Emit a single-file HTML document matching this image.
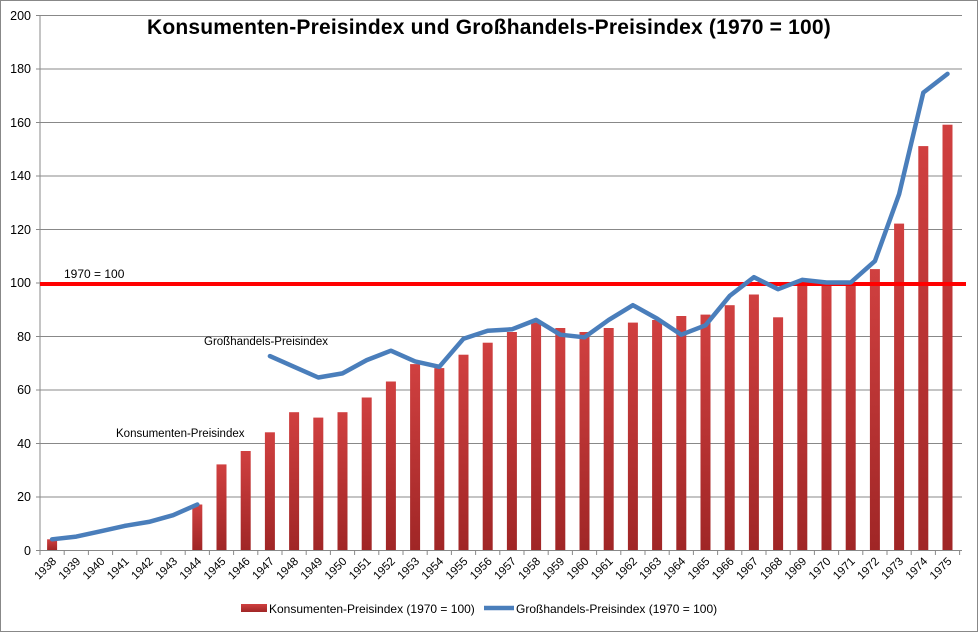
<!DOCTYPE html><html><head><meta charset="utf-8"><style>body{margin:0;background:#fff}svg{display:block;font-family:"Liberation Sans",sans-serif}</style></head><body>
<svg width="978" height="632" viewBox="0 0 978 632">
<defs><linearGradient id="g" x1="0" y1="0" x2="0" y2="1"><stop offset="0" stop-color="#d04040"/><stop offset="1" stop-color="#a02626"/></linearGradient></defs>
<rect x="0.5" y="0.5" width="977" height="631" fill="#fff" stroke="#888"/>
<g stroke="#888" stroke-width="1">
<line x1="36" y1="15.5" x2="962" y2="15.5"/><line x1="36" y1="69" x2="962" y2="69"/><line x1="36" y1="122.5" x2="962" y2="122.5"/><line x1="36" y1="176" x2="962" y2="176"/><line x1="36" y1="229.5" x2="962" y2="229.5"/><line x1="36" y1="283" x2="962" y2="283"/><line x1="36" y1="336.5" x2="962" y2="336.5"/><line x1="36" y1="390" x2="962" y2="390"/><line x1="36" y1="443.5" x2="962" y2="443.5"/><line x1="36" y1="497" x2="962" y2="497"/><line x1="36" y1="550.5" x2="962" y2="550.5"/>
<line x1="40" y1="15" x2="40" y2="551"/>
</g>
<g stroke="#888"><path d="M40 550v5M64.2 550v5M88.4 550v5M112.6 550v5M136.8 550v5M161 550v5M185.2 550v5M209.4 550v5M233.6 550v5M257.8 550v5M282 550v5M306.2 550v5M330.4 550v5M354.6 550v5M378.8 550v5M403 550v5M427.2 550v5M451.4 550v5M475.6 550v5M499.8 550v5M524 550v5M548.2 550v5M572.4 550v5M596.6 550v5M620.8 550v5M645 550v5M669.2 550v5M693.4 550v5M717.6 550v5M741.8 550v5M766 550v5M790.2 550v5M814.4 550v5M838.6 550v5M862.8 550v5M887 550v5M911.2 550v5M935.4 550v5M959.6 550v5"/></g>
<g font-size="12.5" fill="#000" text-anchor="end">
<text x="31" y="20">200</text><text x="31" y="73">180</text><text x="31" y="127">160</text><text x="31" y="180">140</text><text x="31" y="234">120</text><text x="31" y="287">100</text><text x="31" y="341">80</text><text x="31" y="394">60</text><text x="31" y="448">40</text><text x="31" y="501">20</text><text x="31" y="555">0</text>
</g>
<g fill="url(#g)">
<rect x="47.1" y="539.3" width="10" height="10.7"/>
<rect x="192.3" y="504.5" width="10" height="45.5"/>
<rect x="216.5" y="464.4" width="10" height="85.6"/>
<rect x="240.7" y="451" width="10" height="99"/>
<rect x="264.9" y="432.3" width="10" height="117.7"/>
<rect x="289.1" y="412.2" width="10" height="137.8"/>
<rect x="313.3" y="417.6" width="10" height="132.4"/>
<rect x="337.5" y="412.2" width="10" height="137.8"/>
<rect x="361.7" y="397.5" width="10" height="152.5"/>
<rect x="385.9" y="381.5" width="10" height="168.5"/>
<rect x="410.1" y="364.1" width="10" height="185.9"/>
<rect x="434.3" y="368.1" width="10" height="181.9"/>
<rect x="458.5" y="354.7" width="10" height="195.3"/>
<rect x="482.7" y="342.7" width="10" height="207.3"/>
<rect x="506.9" y="332" width="10" height="218"/>
<rect x="531.1" y="322.6" width="10" height="227.4"/>
<rect x="555.3" y="328" width="10" height="222"/>
<rect x="579.5" y="332" width="10" height="218"/>
<rect x="603.7" y="328" width="10" height="222"/>
<rect x="627.9" y="322.6" width="10" height="227.4"/>
<rect x="652.1" y="320" width="10" height="230"/>
<rect x="676.3" y="316" width="10" height="234"/>
<rect x="700.5" y="314.6" width="10" height="235.4"/>
<rect x="724.7" y="305.2" width="10" height="244.8"/>
<rect x="748.9" y="294.5" width="10" height="255.5"/>
<rect x="773.1" y="317.3" width="10" height="232.7"/>
<rect x="797.3" y="282.5" width="10" height="267.5"/>
<rect x="821.5" y="282.5" width="10" height="267.5"/>
<rect x="845.7" y="282.5" width="10" height="267.5"/>
<rect x="869.9" y="269.1" width="10" height="280.9"/>
<rect x="894.1" y="223.6" width="10" height="326.4"/>
<rect x="918.3" y="146.1" width="10" height="403.9"/>
<rect x="942.5" y="124.7" width="10" height="425.3"/>
</g>
<line x1="40" y1="284" x2="966" y2="284" stroke="#ff0000" stroke-width="4"/>
<g fill="none" stroke="#4a7ebb" stroke-width="4.5" stroke-linejoin="round" stroke-linecap="round">
<polyline points="52.1,539.3 76.3,536.6 100.5,531.3 124.7,525.9 148.9,521.9 173.1,515.2 197.3,504.5"/>
<polyline points="269.9,356.1 294.1,366.8 318.3,377.5 342.5,373.4 366.7,360.1 390.9,350.7 415.1,361.4 439.3,366.8 463.5,338.7 487.7,330.7 511.9,329.3 536.1,319.9 560.3,334.7 584.5,337.3 608.7,319.9 632.9,305.2 657.1,318.6 681.3,334.7 705.5,325.3 729.7,295.9 753.9,277.2 778.1,289.2 802.3,279.8 826.5,282.5 850.7,282.5 874.9,261.1 899.1,194.2 923.3,92.6 947.5,73.9"/>
</g>
<text x="489" y="34" text-anchor="middle" font-size="21" font-weight="bold" letter-spacing="0.2">Konsumenten-Preisindex und Großhandels-Preisindex (1970 = 100)</text>
<text x="64" y="278" font-size="12">1970 = 100</text>
<text x="204" y="345" font-size="11.5">Großhandels-Preisindex</text>
<text x="116" y="437" font-size="11.5">Konsumenten-Preisindex</text>
<g font-size="11.5" text-anchor="end">
<text transform="translate(57,562) rotate(-45)">1938</text><text transform="translate(81.2,562) rotate(-45)">1939</text><text transform="translate(105.4,562) rotate(-45)">1940</text><text transform="translate(129.6,562) rotate(-45)">1941</text><text transform="translate(153.8,562) rotate(-45)">1942</text><text transform="translate(178,562) rotate(-45)">1943</text><text transform="translate(202.2,562) rotate(-45)">1944</text><text transform="translate(226.4,562) rotate(-45)">1945</text><text transform="translate(250.6,562) rotate(-45)">1946</text><text transform="translate(274.8,562) rotate(-45)">1947</text><text transform="translate(299,562) rotate(-45)">1948</text><text transform="translate(323.2,562) rotate(-45)">1949</text><text transform="translate(347.4,562) rotate(-45)">1950</text><text transform="translate(371.6,562) rotate(-45)">1951</text><text transform="translate(395.8,562) rotate(-45)">1952</text><text transform="translate(420,562) rotate(-45)">1953</text><text transform="translate(444.2,562) rotate(-45)">1954</text><text transform="translate(468.4,562) rotate(-45)">1955</text><text transform="translate(492.6,562) rotate(-45)">1956</text><text transform="translate(516.8,562) rotate(-45)">1957</text><text transform="translate(541,562) rotate(-45)">1958</text><text transform="translate(565.2,562) rotate(-45)">1959</text><text transform="translate(589.4,562) rotate(-45)">1960</text><text transform="translate(613.6,562) rotate(-45)">1961</text><text transform="translate(637.8,562) rotate(-45)">1962</text><text transform="translate(662,562) rotate(-45)">1963</text><text transform="translate(686.2,562) rotate(-45)">1964</text><text transform="translate(710.4,562) rotate(-45)">1965</text><text transform="translate(734.6,562) rotate(-45)">1966</text><text transform="translate(758.8,562) rotate(-45)">1967</text><text transform="translate(783,562) rotate(-45)">1968</text><text transform="translate(807.2,562) rotate(-45)">1969</text><text transform="translate(831.4,562) rotate(-45)">1970</text><text transform="translate(855.6,562) rotate(-45)">1971</text><text transform="translate(879.8,562) rotate(-45)">1972</text><text transform="translate(904,562) rotate(-45)">1973</text><text transform="translate(928.2,562) rotate(-45)">1974</text><text transform="translate(952.4,562) rotate(-45)">1975</text>
</g>
<rect x="241" y="604" width="26" height="8" fill="url(#g)"/>
<text x="269" y="613" font-size="12">Konsumenten-Preisindex (1970 = 100)</text>
<line x1="484" y1="608" x2="514" y2="608" stroke="#4a7ebb" stroke-width="4.5"/>
<text x="516" y="613" font-size="12">Großhandels-Preisindex (1970 = 100)</text>
</svg>
</body></html>
